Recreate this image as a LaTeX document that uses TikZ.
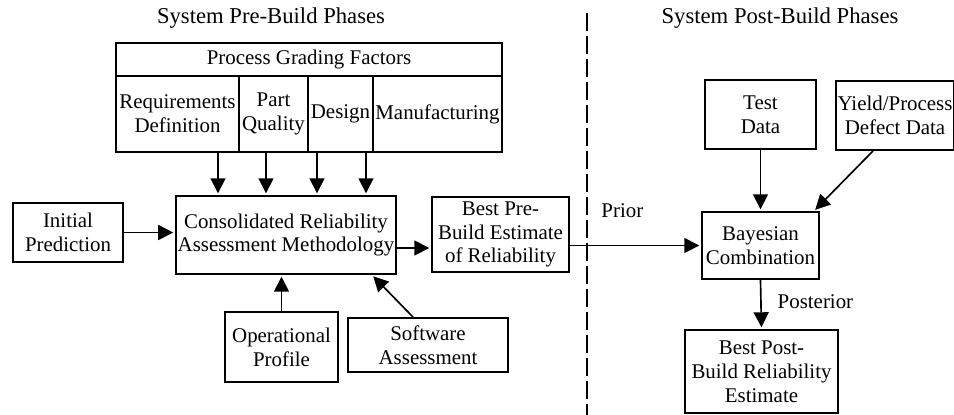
\documentclass[tikz,border=0pt]{standalone}
\usepackage{fontspec}
\setmainfont{Liberation Serif}
\usepackage{tikz}
\usetikzlibrary{arrows.meta, positioning, calc}
\tikzset{
  box/.style={rectangle, draw=black, line width=1.1pt, align=center,
              inner sep=1pt, font=\fontsize{11.9}{13.6}\selectfont},
  arr/.style={-{Triangle[length=0.3cm, width=0.3cm]}, draw=black, line width=0.95pt,
              shorten >=1pt},
  title/.style={font=\fontsize{12.9}{14.6}\selectfont},
}

\begin{document}
\begin{tikzpicture}[x=0.02cm, y=-0.02cm,
  every node/.style={font=\fontsize{11.9}{13.6}\selectfont},
  pgf/.style={box, minimum height=1.52cm},
  phase/.style={draw=black, line width=1pt, dash pattern=on 0.36cm off 0.1cm},
]
  \useasboundingbox (0,0) rectangle (954,414);

  \node[title] (pre)  at (271,18) {System Pre-Build Phases};
  \node[title] (post) at (780,18) {System Post-Build Phases};

  % dividing line between the two phases
  \coordinate (divtop) at (587,13);
  \coordinate (divbot) at (587,416);
  \draw[phase] (divtop) -- (divbot);

  % grading factors table
  \node[box, minimum width=7.72cm, minimum height=0.66cm] (pgfhead) at (309,59.5) {Process Grading Factors};
  \node[pgf, minimum width=2.46cm] (req)  at (177.5,114) {Requirements\\Definition};
  \node[pgf, minimum width=1.38cm] (part) at (273.5,114) {Part\\Quality};
  \node[pgf, minimum width=1.30cm] (des)  at (340.5,114) {Design};
  \node[pgf, minimum width=2.58cm] (manu) at (437.5,114) {Manufacturing};

  \node[box, minimum width=4.36cm, minimum height=1.56cm] (crm) at (286,235)
    {Consolidated Reliability\\Assessment Methodology};
  \node[box, minimum width=2.2cm, minimum height=1.18cm] (init) at (68,232.5)
    {Initial\\Prediction};
  \node[box, minimum width=2.74cm, minimum height=1.5cm] (bestpre) at (500.5,234.5)
    {Best Pre-\\Build Estimate\\of Reliability};
  \node[box, minimum width=2.26cm, minimum height=1.4cm] (op) at (281.5,347)
    {Operational\\Profile};
  \node[box, minimum width=3.2cm, minimum height=1.08cm] (sw) at (428,345)
    {Software\\Assessment};

  \node[box, minimum width=2.22cm, minimum height=1.38cm] (test) at (760.5,114.5)
    {Test\\Data};
  \node[box, minimum width=2.32cm, minimum height=1.38cm] (yield) at (895,115.5)
    {Yield/Process\\Defect Data};
  \node[box, minimum width=2.34cm, minimum height=1.34cm] (bayes) at (760.5,245.5)
    {Bayesian\\Combination};
  \node[box, minimum width=3.06cm, minimum height=1.66cm] (bestpost) at (761.5,371.5)
    {Best Post-\\Build Reliability\\Estimate};

  \foreach \dx/\col in {-1.36cm/req, -0.4cm/part, 0.62cm/des, 1.6cm/manu}
    \draw[arr] ([xshift=\dx]crm.north |- \col.south) -- ([xshift=\dx]crm.north);

  \draw[arr] (init) -- (init -| crm.west);
  \draw[arr] ([yshift=-0.26cm]crm.east) -- ([yshift=-0.26cm]crm.east -| bestpre.west);
  \draw[arr] (op.north) -- (op.north |- crm.south);
  \draw[arr] ([xshift=-0.3cm]sw.north) -- ([xshift=1.72cm]crm.south);

  \draw[arr] (bestpre.east |- bayes.west) -- node[pos=0.4, above=0.42cm] {Prior} (bayes.west);
  \draw[arr] (test.south) -- (test.south |- bayes.north);
  \draw[arr] ([xshift=-0.44cm]yield.south) -- ([xshift=-0.12cm]bayes.north east);
  \draw[arr] (bayes.south) -- node[right=0.2cm, yshift=0.06cm] {Posterior} (bestpost.north);
\end{tikzpicture}
\end{document}
